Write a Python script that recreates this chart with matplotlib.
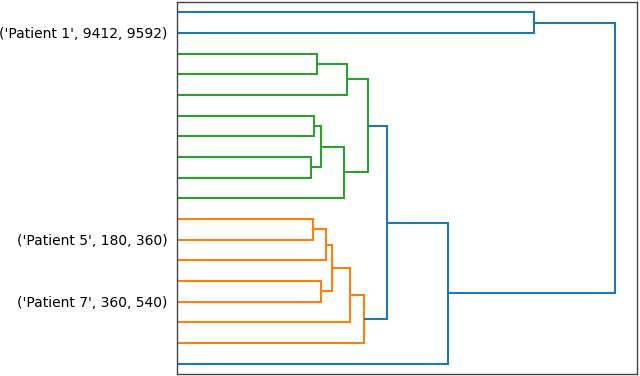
import matplotlib
matplotlib.use("Agg")
import matplotlib.pyplot as plt
import numpy as np

# leaves listed from top to bottom, only a few of them carry a label
leaf_labels = ["", "('Patient 1', 9412, 9592)", "", "", "", "", "", "", "", "",
               "", "('Patient 5', 180, 360)", "", "", "('Patient 7', 360, 540)", "", "", ""]

# linkage rows: child a, child b, merge distance (new node ids start at 18)
link_a = [7, 10, 5, 2, 20, 13, 19, 24, 22, 21, 25, 28, 27, 30, 31, 0, 33]
link_b = [8, 11, 6, 3, 18, 14, 12, 23, 9, 4, 15, 16, 26, 29, 17, 1, 32]
link_h = [30.7, 31.1, 31.2, 31.85, 32.8, 32.8, 33.9, 35.4, 38.1, 38.7,
          39.4, 42.6, 43.5, 48.0, 61.9, 81.5, 100.0]

color_threshold = 45.0
above_color = "C0"
cluster_colors = ["C1", "C2"]


def leaves_of(node, n):
    if node < n:
        return [node]
    k = node - n
    return leaves_of(link_a[k], n) + leaves_of(link_b[k], n)


def draw_dendrogram(ax):
    n = len(leaf_labels)
    pos = {}
    height = {}
    for i in range(n):
        pos[i] = 10 * (n - 1 - i) + 5
        height[i] = 0.0
    for k in range(len(link_h)):
        a, b = link_a[k], link_b[k]
        pos[n + k] = (pos[a] + pos[b]) / 2
        height[n + k] = link_h[k]

    # colour: each top-most cluster below the threshold gets its own colour,
    # picked in order from the bottom leaf upwards (like scipy)
    node_color = {}
    roots = []
    for k in range(len(link_h)):
        node = n + k
        if link_h[k] < color_threshold:
            parent_ok = True
            for j in range(len(link_h)):
                if (link_a[j] == node or link_b[j] == node) and link_h[j] < color_threshold:
                    parent_ok = False
            if parent_ok:
                roots.append(node)
    roots.sort(key=lambda r: min(pos[l] for l in leaves_of(r, n)))
    for ci, r in enumerate(roots):
        col = cluster_colors[ci % len(cluster_colors)]
        stack = [r]
        while stack:
            nd = stack.pop()
            if nd >= n:
                node_color[nd] = col
                stack += [link_a[nd - n], link_b[nd - n]]

    for k in range(len(link_h)):
        node = n + k
        a, b = link_a[k], link_b[k]
        xs = [height[a], link_h[k], link_h[k], height[b]]
        ys = [pos[a], pos[a], pos[b], pos[b]]
        ax.plot(xs, ys, color=node_color.get(node, above_color), lw=1.5,
                solid_capstyle="butt", solid_joinstyle="miter")

    ax.set_ylim(0, 10 * n)
    ax.set_xlim(0, max(link_h) * 1.05)
    ax.set_yticks([pos[i] for i in range(n)])
    ax.set_yticklabels(leaf_labels, fontsize=10)
    ax.set_xticks([])
    ax.tick_params(axis="y", length=0, pad=7)
    for sp in ax.spines.values():
        sp.set_color("#444444")
        sp.set_linewidth(1.0)


if __name__ == "__main__":
    fig = plt.figure(figsize=(6.4, 3.76), dpi=100)
    ax = fig.add_axes([177 / 640, 2 / 376, 460 / 640, 372 / 376])
    draw_dendrogram(ax)
    fig.savefig("out.png", dpi=100)
